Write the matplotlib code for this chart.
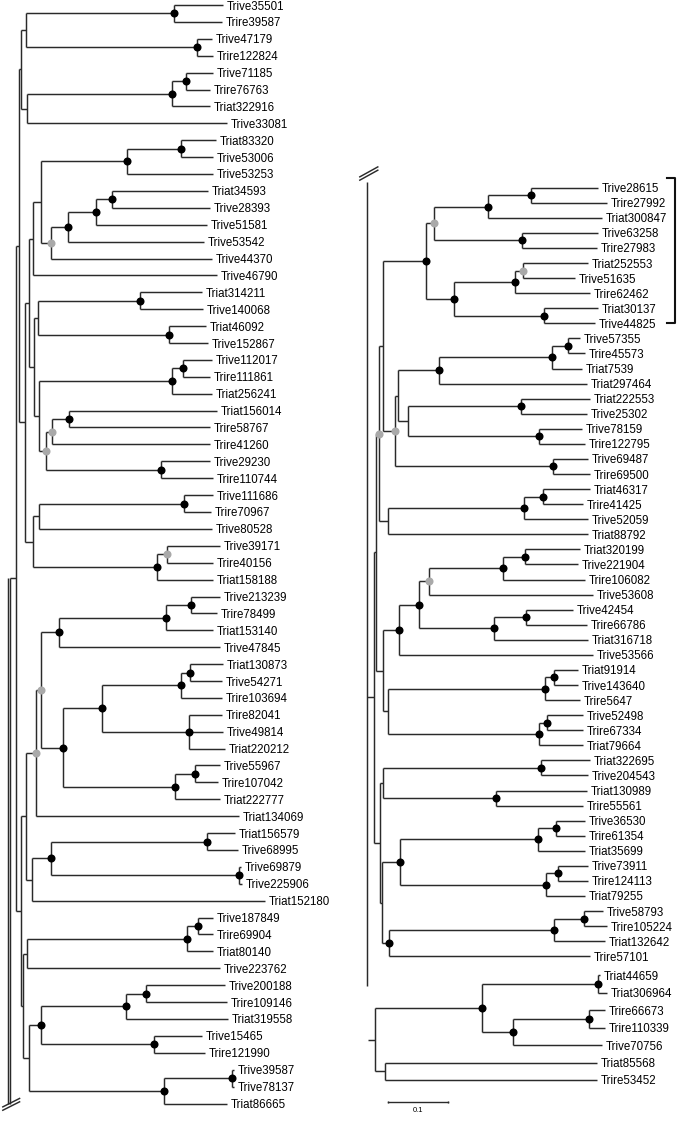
import matplotlib.pyplot as plt

plt.rcParams['font.family'] = ['Liberation Sans', 'DejaVu Sans']

# ---------------- upper part of the tree (left column) ----------------
left_names = [
    "Trive35501", "Trire39587", "Trive47179", "Trire122824", "Trive71185", "Trire76763",
    "Triat322916", "Trive33081", "Triat83320", "Trive53006", "Trive53253", "Triat34593",
    "Trive28393", "Trive51581", "Trive53542", "Trive44370", "Trive46790", "Triat314211",
    "Trive140068", "Triat46092", "Trive152867", "Trive112017", "Trire111861", "Triat256241",
    "Triat156014", "Trire58767", "Trire41260", "Trive29230", "Trire110744", "Trive111686",
    "Trire70967", "Trive80528", "Trive39171", "Trire40156", "Triat158188", "Trive213239",
    "Trire78499", "Triat153140", "Trive47845", "Triat130873", "Trive54271", "Trire103694",
    "Trire82041", "Trive49814", "Triat220212", "Trive55967", "Trire107042", "Triat222777",
    "Triat134069", "Triat156579", "Trive68995", "Trive69879", "Trive225906", "Triat152180",
    "Trive187849", "Trire69904", "Triat80140", "Trive223762", "Trive200188", "Trire109146",
    "Triat319558", "Trive15465", "Trire121990", "Trive39587", "Trive78137", "Triat86665",
]
left_tips = [
    0.355, 0.353, 0.337, 0.338, 0.338, 0.333, 0.333, 0.362, 0.343, 0.338, 0.338, 0.330,
    0.333, 0.328, 0.323, 0.337, 0.345, 0.320, 0.322, 0.327, 0.330, 0.337, 0.333, 0.337,
    0.345, 0.333, 0.333, 0.333, 0.338, 0.338, 0.335, 0.337, 0.350, 0.338, 0.338, 0.350,
    0.345, 0.338, 0.350, 0.355, 0.353, 0.353, 0.353, 0.355, 0.358, 0.350, 0.347, 0.350,
    0.382, 0.375, 0.380, 0.385, 0.387, 0.425, 0.338, 0.338, 0.338, 0.350, 0.358, 0.362,
    0.363, 0.320, 0.325, 0.373, 0.373, 0.362,
]
# internal nodes: first leaf, last leaf (1-based), depth, support (b black, g grey, - none)
left_lo = [1, 3, 1, 5, 5, 5, 1, 9, 9, 12, 12, 12, 12, 9, 9, 18, 20, 18, 22, 22, 25, 25, 28,
           25, 22, 18, 9, 30, 30, 33, 33, 30, 9, 1, 36, 36, 36, 40, 40, 43, 40, 46, 46, 40,
           36, 36, 50, 52, 50, 50, 36, 55, 55, 55, 59, 59, 62, 59, 64, 64, 59, 55, 36, 1]
left_hi = [2, 4, 4, 6, 7, 8, 8, 10, 11, 13, 14, 15, 16, 16, 17, 19, 21, 21, 23, 24, 26, 27, 29,
           29, 29, 29, 29, 31, 32, 34, 35, 35, 35, 35, 37, 38, 39, 41, 42, 45, 45, 47, 48, 48,
           48, 49, 51, 53, 53, 54, 54, 56, 57, 58, 60, 61, 63, 63, 65, 66, 66, 66, 66, 66]
left_x = [0.273, 0.312, 0.027, 0.293, 0.270, 0.028, 0.018, 0.285, 0.195, 0.170, 0.143, 0.097,
          0.068, 0.052, 0.038, 0.217, 0.265, 0.047, 0.288, 0.270, 0.098, 0.070, 0.252, 0.060,
          0.048, 0.040, 0.032, 0.290, 0.048, 0.262, 0.245, 0.038, 0.025, 0.015, 0.302, 0.260,
          0.082, 0.300, 0.285, 0.298, 0.153, 0.308, 0.275, 0.088, 0.052, 0.043, 0.328, 0.382,
          0.068, 0.037, 0.027, 0.313, 0.295, 0.028, 0.227, 0.193, 0.240, 0.052, 0.370, 0.257,
          0.032, 0.022, 0.018, 0.010]
left_sup = list("bb-bb--" "bbbbbg--" "bb-" "bbbgbg---" "b-gb---" "bbbbbbbbbb"
                "gg" "bbb" "--" "bb-" "bbbbbb" "----")

# ---------------- lower part of the tree (right column) ----------------
right_names = [
    "Trive28615", "Trire27992", "Triat300847", "Trive63258", "Trire27983", "Triat252553",
    "Trive51635", "Trire62462", "Triat30137", "Trive44825", "Trive57355", "Trire45573",
    "Triat7539", "Triat297464", "Triat222553", "Trive25302", "Trive78159", "Trire122795",
    "Trive69487", "Trire69500", "Triat46317", "Trire41425", "Trive52059", "Triat88792",
    "Triat320199", "Trive221904", "Trire106082", "Trive53608", "Trive42454", "Trire66786",
    "Triat316718", "Trive53566", "Triat91914", "Trive143640", "Trire5647", "Trive52498",
    "Trire67334", "Triat79664", "Triat322695", "Trive204543", "Triat130989", "Trire55561",
    "Trive36530", "Trire61354", "Triat35699", "Trive73911", "Trire124113", "Triat79255",
    "Trive58793", "Trire105224", "Triat132642", "Trire57101",
]
right_tips = [
    0.385, 0.400, 0.392, 0.385, 0.383, 0.368, 0.347, 0.372, 0.385, 0.380, 0.355, 0.363,
    0.358, 0.367, 0.372, 0.367, 0.358, 0.363, 0.368, 0.372, 0.372, 0.360, 0.368, 0.368,
    0.355, 0.352, 0.363, 0.377, 0.343, 0.367, 0.368, 0.377, 0.352, 0.352, 0.355, 0.360,
    0.360, 0.360, 0.372, 0.368, 0.367, 0.360, 0.363, 0.363, 0.363, 0.368, 0.368, 0.363,
    0.393, 0.400, 0.397, 0.372,
]
right_lo = [1, 1, 4, 1, 6, 6, 9, 6, 1, 11, 11, 11, 15, 17, 15, 11, 19, 11, 1, 21, 21, 21, 1,
            25, 25, 25, 29, 29, 25, 25, 33, 33, 36, 36, 33, 25, 1, 39, 41, 39, 43, 43, 46,
            46, 43, 49, 49, 49, 43, 39, 1]
right_hi = [2, 3, 5, 5, 7, 8, 10, 10, 10, 12, 13, 14, 16, 18, 18, 18, 20, 20, 20, 22, 23, 24,
            24, 26, 27, 28, 30, 31, 31, 32, 34, 35, 37, 38, 38, 38, 38, 40, 42, 42, 44, 45,
            47, 48, 48, 50, 51, 52, 52, 52, 52]
right_x = [0.273, 0.202, 0.258, 0.112, 0.260, 0.247, 0.295, 0.145, 0.098, 0.335, 0.308, 0.120,
           0.257, 0.287, 0.068, 0.052, 0.310, 0.047, 0.027, 0.293, 0.262, 0.035, 0.020, 0.263,
           0.227, 0.103, 0.265, 0.212, 0.087, 0.053, 0.312, 0.297, 0.300, 0.287, 0.035, 0.027,
           0.015, 0.290, 0.215, 0.027, 0.315, 0.285, 0.318, 0.298, 0.055, 0.362, 0.312, 0.037,
           0.025, 0.022, 0.012]
right_sup = list("bbbg" "gbbbb" "bbbbb" "--" "bg-" "bb-g" "bbg" "bbbb" "bbbb" "---"
                 "bb-" "bbbbb" "bbb" "---")

# ---------------- outgroup ----------------
out_names = ["Triat44659", "Triat306964", "Trire66673", "Trire110339", "Trive70756",
             "Triat85568", "Trire53452"]
out_tips = [0.388, 0.400, 0.397, 0.397, 0.392, 0.383, 0.383]
out_lo = [1, 3, 3, 1, 6, 1]
out_hi = [2, 4, 5, 5, 7, 7]
out_x = [0.385, 0.370, 0.243, 0.192, 0.030, 0.013]
out_sup = list("bbbb--")

LINE = '#2a2a2a'
LW = 1.05
FS = 8.3
PX = 600.0  # pixels per unit of branch length (0.1 = 60 px)


def panel(fig, x0_px, y0_px, dy_px):
    # full-figure axes whose data units are branch length (x) and leaf rows (y)
    W, H = fig.get_size_inches() * fig.dpi
    ax = fig.add_axes([0, 0, 1, 1])
    ax.set_xlim(-x0_px / PX, (W - x0_px) / PX)
    ax.set_ylim((H - y0_px) / dy_px, -y0_px / dy_px)
    ax.axis('off')
    return ax


def draw_clade(ax, names, tips, lo, hi, xs, sup):
    span = {(a, b): k for k, (a, b) in enumerate(zip(lo, hi))}
    ny = {}
    for k in sorted(range(len(lo)), key=lambda k: hi[k] - lo[k]):
        kids = []
        i = lo[k]
        while i <= hi[k]:
            best = None
            for j in range(hi[k], i, -1):
                if (i, j) in span and (i, j) != (lo[k], hi[k]):
                    best = j
                    break
            if best is None:
                kids.append((tips[i - 1], i - 1))
                i += 1
            else:
                kk = span[(i, best)]
                kids.append((xs[kk], ny[kk]))
                i = best + 1
        ny[k] = (kids[0][1] + kids[-1][1]) / 2
        ax.vlines(xs[k], kids[0][1], kids[-1][1], color=LINE, lw=LW)
        for cx, cy in kids:
            ax.hlines(cy, xs[k], cx, color=LINE, lw=LW)
        if sup[k] != '-':
            ax.plot(xs[k], ny[k], 'o', ms=5.8, mew=0,
                    color='black' if sup[k] == 'b' else '#a9a9a9', zorder=3)
    for i, nm in enumerate(names):
        ax.annotate(nm, (tips[i], i), xytext=(2.6, 0), textcoords='offset points',
                    va='center_baseline', ha='left', fontsize=FS, color='black')
    root = max(range(len(lo)), key=lambda k: hi[k] - lo[k])
    return xs[root], ny[root]


def slash(ax, x, y, dx, dy, gap):
    for g in (0, gap):
        ax.plot([x, x + dx], [y + g, y + dy + g], color=LINE, lw=LW)


fig = plt.figure(figsize=(6.85, 11.26), dpi=100)

# left column
axL = panel(fig, 10, 5, 16.9)
rx, ry = draw_clade(axL, left_names, left_tips, left_lo, left_hi, left_x, left_sup)
axL.hlines(ry, 0, rx, color=LINE, lw=LW)
axL.vlines([-0.004, 0], ry, len(left_names) - 0.95, color=LINE, lw=LW)
slash(axL, -0.012, 65.4, 0.028, -0.5, -0.2)

# right column
axR = panel(fig, 367, 187.7, 15.07)
rx, ry = draw_clade(axR, right_names, right_tips, right_lo, right_hi, right_x, right_sup)
axR.hlines(ry, 0, rx, color=LINE, lw=LW)
axR.vlines(0, -0.4, 53.0, color=LINE, lw=LW)
slash(axR, -0.012, -0.5, 0.03, -0.66, -0.22)
# bracket around the first clade
axR.plot([0.5, 0.513, 0.513, 0.5], [-0.65, -0.65, 9.0, 9.0], color='#111111', lw=1.5)

# outgroup
axO = panel(fig, 367, 975.3, 17.45)
rx, ry = draw_clade(axO, out_names, out_tips, out_lo, out_hi, out_x, out_sup)
axO.hlines(ry, 0.002, rx, color=LINE, lw=LW)

# scale bar
sb_len = 0.1
axO.plot([0.035, 0.035 + sb_len], [7.26, 7.26], color=LINE, lw=1.0)
axO.vlines([0.035, 0.035 + sb_len], 7.18, 7.34, color=LINE, lw=1.0)
axO.text(0.035 + sb_len / 2, 7.55, '0.1', ha='center', va='top', fontsize=5.5)

fig.savefig('out.png', dpi=100)
